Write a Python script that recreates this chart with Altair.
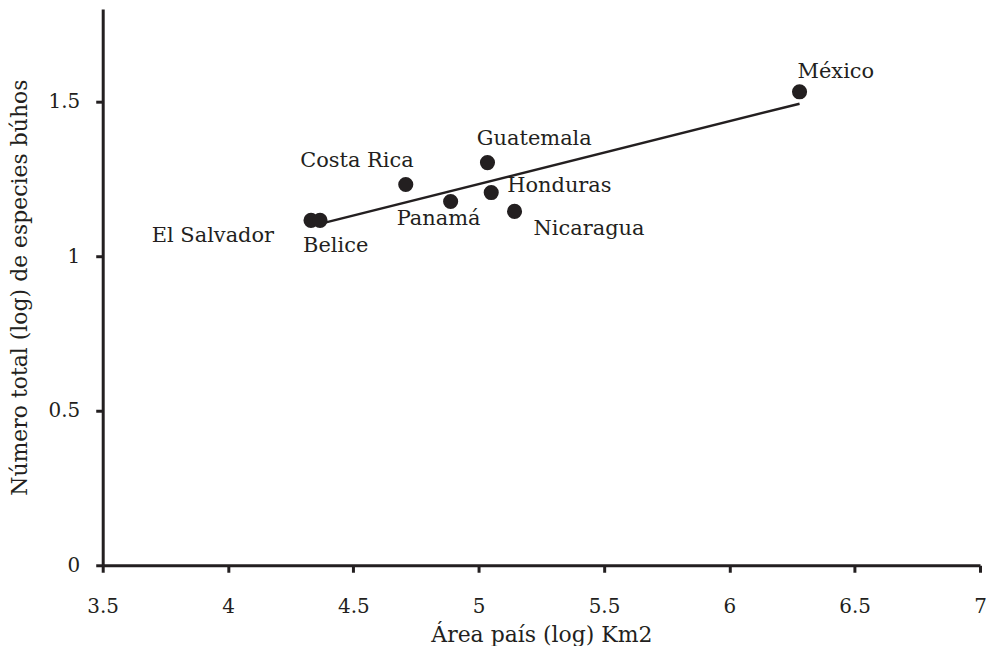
import altair as alt
import pandas as pd

paises = ["México", "Guatemala", "Honduras", "Nicaragua", "Costa Rica", "Panamá", "El Salvador", "Belice"]
area_log = [6.28, 5.035, 5.05, 5.143, 4.709, 4.888, 4.331, 4.367]
especies_log = [1.532, 1.303, 1.206, 1.145, 1.232, 1.177, 1.116, 1.116]

x_ticks = [3.5, 4, 4.5, 5, 5.5, 6, 6.5, 7]
y_ticks = [0, 0.5, 1, 1.5]

df = pd.DataFrame({"pais": paises, "area": area_log, "especies": especies_log})

INK = "#231f20"
FONT = "DejaVu Serif"

xs = alt.X("area:Q", scale=alt.Scale(domain=[3.5, 7], nice=False, zero=False),
           axis=alt.Axis(values=x_ticks, title="Área país (log) Km2", format="~g"))
ys = alt.Y("especies:Q", scale=alt.Scale(domain=[0, 1.8], nice=False),
           axis=alt.Axis(values=y_ticks, title="Número total (log) de especies búhos", format="~g"))

base = alt.Chart(df)

line = base.transform_regression("area", "especies").mark_line(
    color=INK, strokeWidth=2.5).encode(x=xs, y=ys)

points = base.mark_circle(size=230, color=INK, opacity=1).encode(x=xs, y=ys)

# (name, align, dx, dy)
label_style = [
    ("México", "left", -2, -20),
    ("Guatemala", "center", 47, -24),
    ("Costa Rica", "center", -49, -24),
    ("Honduras", "left", 16, -7),
    ("Panamá", "center", -12, 18),
    ("Nicaragua", "left", 19, 18),
    ("El Salvador", "right", -37, 16),
    ("Belice", "left", -17, 26),
]

layers = [line, points]
for name, align, dx, dy in label_style:
    layers.append(
        base.transform_filter(alt.datum.pais == name)
        .mark_text(align=align, baseline="middle", dx=dx, dy=dy,
                   font=FONT, fontSize=21, color=INK)
        .encode(x=xs, y=ys, text="pais:N")
    )

chart = alt.layer(*layers).properties(
    width=880, height=558,
    autosize=alt.AutoSizeParams(type="none"),
    padding={"left": 95, "top": 0, "right": 6, "bottom": 80},
).configure_view(stroke=None).configure_axis(
    grid=False,
    domainColor=INK, domainWidth=3,
    tickColor=INK, tickWidth=3, tickSize=7,
    labelFont=FONT, labelFontSize=20, labelColor=INK, labelFlush=False,
    titleFont=FONT, titleFontSize=22, titleColor=INK, titleFontWeight="normal",
).configure_axisX(
    labelPadding=24, titlePadding=8,
).configure_axisY(
    labelPadding=16, titlePadding=17,
)

chart.save("out.html", embed_options={"renderer": "svg", "actions": False})
